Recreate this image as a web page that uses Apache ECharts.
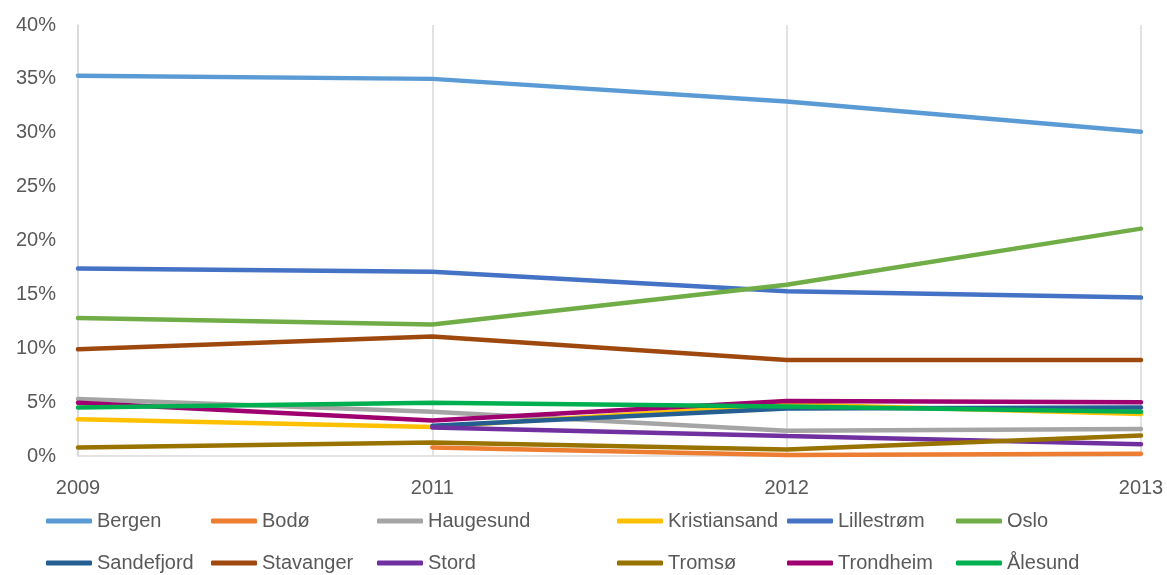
<!DOCTYPE html>
<html>
<head>
<meta charset="utf-8">
<script src="https://cdn.jsdelivr.net/npm/echarts@6/dist/echarts.min.js"></script>
<style>
  html, body { margin: 0; padding: 0; background: #fff; }
  #chart { width: 1167px; height: 575px; }
</style>
</head>
<body>
<div id="chart"></div>
<script>
  // years on the x axis
  var years = ['2009', '2011', '2012', '2013'];

  // share per city (%), null = no value that year
  var bergen       = [35.3, 35.0, 32.9, 30.1];
  var bodo         = [null, 0.8, 0.1, 0.2];
  var haugesund    = [5.3, 4.1, 2.35, 2.5];
  var kristiansand = [3.4, 2.7, 4.8, 3.9];
  var lillestrom   = [17.4, 17.1, 15.3, 14.7];
  var oslo         = [12.8, 12.2, 15.9, 21.1];
  var sandefjord   = [null, 2.8, 4.4, 4.5];
  var stavanger    = [9.9, 11.1, 8.9, 8.9];
  var stord        = [null, 2.65, 1.85, 1.1];
  var tromso       = [0.8, 1.25, 0.6, 1.9];
  var trondheim    = [4.95, 3.3, 5.1, 5.0];
  var alesund      = [4.5, 4.95, 4.6, 4.1];

  var names  = ['Bergen', 'Bodø', 'Haugesund', 'Kristiansand', 'Lillestrøm', 'Oslo',
                'Sandefjord', 'Stavanger', 'Stord', 'Tromsø', 'Trondheim', 'Ålesund'];
  var values = [bergen, bodo, haugesund, kristiansand, lillestrom, oslo,
                sandefjord, stavanger, stord, tromso, trondheim, alesund];
  var colors = ['#5B9BD5', '#ED7D31', '#A5A5A5', '#FFC000', '#4472C4', '#70AD47',
                '#255E91', '#9E480E', '#7030A0', '#997300', '#9E0070', '#00B050'];

  var font = 'Liberation Sans, sans-serif';

  let series = names.map(function (n, i) {
    return {
      name: n,
      type: 'line',
      symbol: 'none',
      color: colors[i],
      lineStyle: { width: 4.5, cap: 'round' },
      data: values[i].map(function (v) { return v == null ? '-' : v / 100; })
    };
  });

  // legend columns (Excel spaces them unevenly)
  let colX = [46, 211, 377, 617, 787, 956];
  let legends = colX.map(function (x, c) {
    return {
      orient: 'vertical',
      left: x,
      top: 511,
      padding: 0,
      itemGap: 22,
      itemWidth: 46,
      itemHeight: 5,
      icon: 'roundRect',
      textStyle: { fontFamily: font, fontSize: 20, color: '#595959' },
      data: [names[c], names[c + 6]]
    };
  });

  let chart = echarts.init(document.getElementById('chart'));
  chart.setOption({
    animation: false,
    color: colors,
    grid: { left: 78, right: 26, top: 25, height: 431 },
    legend: legends,
    xAxis: {
      type: 'category',
      boundaryGap: false,
      data: years,
      axisLine: { lineStyle: { color: '#d9d9d9', width: 1.5 } },
      axisTick: { show: false },
      axisLabel: { fontFamily: font, fontSize: 20, color: '#595959', margin: 22 },
      splitLine: { show: true, lineStyle: { color: '#d9d9d9', width: 1.5 } }
    },
    yAxis: {
      type: 'value',
      min: 0,
      max: 0.4,
      interval: 0.05,
      axisLine: { show: true, lineStyle: { color: '#d9d9d9', width: 1.5 } },
      axisTick: { show: false },
      splitLine: { show: false },
      axisLabel: {
        fontFamily: font, fontSize: 20, color: '#595959', margin: 22,
        formatter: function (v) { return Math.round(v * 100) + '%'; }
      }
    },
    series: series
  });
</script>
</body>
</html>
